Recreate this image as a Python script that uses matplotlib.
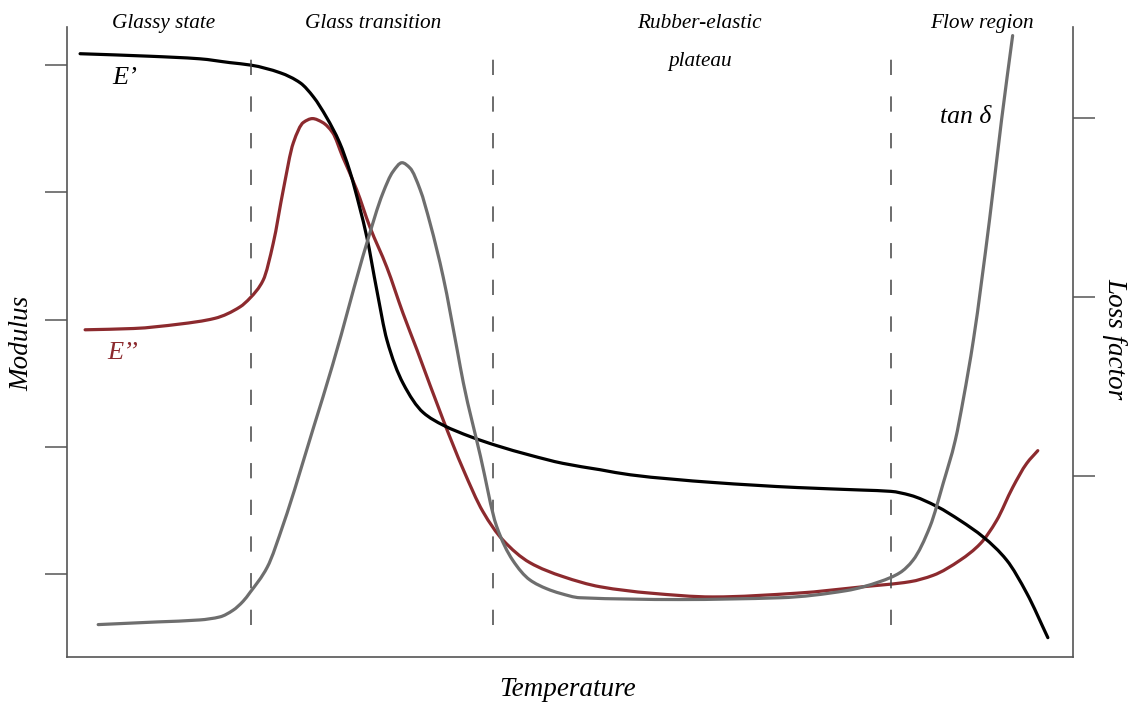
import matplotlib
matplotlib.use("Agg")
import matplotlib.pyplot as plt
import numpy as np
from matplotlib.path import Path
from matplotlib.patches import PathPatch

plt.rcParams['font.family'] = ['Liberation Serif', 'DejaVu Serif']
plt.rcParams['font.style'] = 'italic'

# storage modulus E' (left axis, arbitrary units)
t_e1 = [1.3, 8.3, 13.2, 16.2, 18.3, 21.2, 23.2, 24.5, 25.8, 27.1, 28.1, 29.1, 29.8,
        30.8, 31.8, 33.4, 35.4, 37.4, 40.1, 42.7, 46.0, 49.3, 53.0, 56.0, 64.2, 72.6,
        79.1, 81.9, 83.8, 86.5, 88.8, 91.1, 93.4, 95.4, 97.5]
e1 = [5.09, 5.07, 5.05, 5.02, 5.00, 4.94, 4.86, 4.75, 4.59, 4.39, 4.17, 3.88, 3.65,
      3.23, 2.84, 2.50, 2.27, 2.17, 2.08, 2.01, 1.935, 1.87, 1.82, 1.78, 1.72, 1.68,
      1.66, 1.65, 1.62, 1.53, 1.42, 1.29, 1.11, 0.85, 0.50]

# loss modulus E''
t_e2 = [1.8, 6.6, 11.2, 14.7, 17.2, 18.2, 19.5, 20.5, 21.5, 22.5, 23.5, 24.4, 25.4, 26.4,
        27.4, 28.8, 30.1, 31.8, 33.4, 34.8, 37.4, 39.4, 41.35, 43.3, 46.0, 49.3,
        53.0, 58.0, 64.2, 72.6, 79.1, 83.8, 86.1, 88.8, 90.8, 92.4, 94.0, 95.4, 96.5]
e2 = [2.92, 2.93, 2.965, 3.01, 3.10, 3.17, 3.31, 3.60, 4.02, 4.39, 4.55, 4.58, 4.55, 4.47,
      4.28, 4.02, 3.73, 3.41, 3.05, 2.76, 2.21, 1.82, 1.49, 1.27, 1.09, 0.98,
      0.90, 0.85, 0.82, 0.85, 0.90, 0.94, 0.99, 1.11, 1.24, 1.42, 1.68, 1.87, 1.97]

# loss factor tan delta (right axis)
t_tan = [3.1, 9.0, 13.2, 15.2, 16.5, 17.5, 18.2, 19.9, 21.5, 24.5, 26.4, 29.8, 31.4, 32.4,
         33.3, 34.1, 35.1, 36.1, 37.4, 38.8, 39.4, 41.1, 42.7, 44.3, 46.0, 47.7,
         49.0, 51.0, 60.9, 70.9, 77.5, 80.8, 82.8, 84.1, 85.8, 87.1, 88.3, 89.1, 90.1,
         91.7, 92.9, 94.0]
tan_d = [0.17, 0.185, 0.196, 0.213, 0.25, 0.30, 0.35, 0.49, 0.73, 1.27, 1.62, 2.30, 2.58, 2.70,
         2.75, 2.72, 2.60, 2.41, 2.11, 1.70, 1.52, 1.11, 0.72, 0.53, 0.42, 0.37,
         0.345, 0.32, 0.31, 0.32, 0.36, 0.41, 0.46, 0.53, 0.72, 0.96, 1.20, 1.43, 1.76,
         2.43, 2.99, 3.46]

dividers = [18.3, 42.35, 81.9]
regions = [("Glassy state", 9.6, 5.33), ("Glass transition", 30.4, 5.33),
           ("Rubber-elastic", 62.9, 5.33), ("plateau", 62.9, 5.03),
           ("Flow region", 90.9, 5.33)]

spine_col = "#555555"
red = "#8c2a2e"
grey = "#6e6e6e"


def smooth_curve(a, x, y, color):
    # bezier path through the read points, pchip-style slopes (no overshoot)
    x = np.asarray(x, float)
    y = np.asarray(y, float)
    h = np.diff(x)
    s = np.diff(y) / h
    d = np.zeros_like(y)
    d[0], d[-1] = s[0], s[-1]
    for k in range(1, len(x) - 1):
        if s[k - 1] * s[k] > 0:
            w1 = 2 * h[k] + h[k - 1]
            w2 = h[k] + 2 * h[k - 1]
            d[k] = (w1 + w2) / (w1 / s[k - 1] + w2 / s[k])
    verts = [(x[0], y[0])]
    codes = [Path.MOVETO]
    for i in range(len(x) - 1):
        verts += [(x[i] + h[i] / 3, y[i] + d[i] * h[i] / 3),
                  (x[i + 1] - h[i] / 3, y[i + 1] - d[i + 1] * h[i] / 3),
                  (x[i + 1], y[i + 1])]
        codes += [Path.CURVE4] * 3
    patch = PathPatch(Path(verts, codes), facecolor="none", edgecolor=color,
                      lw=2.3, capstyle="round", joinstyle="round")
    a.add_patch(patch)


fig = plt.figure(figsize=(11.31, 7.02), dpi=100)
ax = fig.add_axes([67/1131, 45/702, 1006/1131, 630/702])
ax2 = ax.twinx()

smooth_curve(ax, t_e2, e2, red)
smooth_curve(ax, t_e1, e1, "black")
smooth_curve(ax2, t_tan, tan_d, grey)

for d in dividers:
    ax.plot([d, d], [0.60, 5.17], color="#444444", lw=1.1, dashes=(10, 14))

ax.set_xlim(0, 100)
ax.set_ylim(0.348, 5.30)
ax2.set_ylim(-0.011, 3.508)

ax.set_xticks([])
ax.set_yticks([1, 2, 3, 4, 5])
ax.set_yticklabels([])
ax2.set_yticks([1, 2, 3])
ax2.set_yticklabels([])

for a in (ax, ax2):
    a.spines["top"].set_visible(False)
    for s in a.spines.values():
        s.set_color(spine_col)
        s.set_linewidth(1.2)
    a.tick_params(axis="y", direction="out", length=15.5, width=1.1, color=spine_col)
ax.spines["right"].set_visible(False)
ax2.spines["left"].set_visible(False)
ax2.spines["bottom"].set_visible(False)

for label, x, y in regions:
    ax.text(x, y, label, ha="center", va="center", fontsize=15.3)

ax.text(4.5, 4.90, "E\u2019", ha="left", va="center", fontsize=19)
ax.text(4.0, 2.74, "E\u2019\u2019", ha="left", va="center", fontsize=19, color=red)
ax.text(86.8, 4.59, "tan \u03b4", ha="left", va="center", fontsize=18.5)

ax.set_xlabel("Temperature", fontsize=19.5, va="center")
ax.xaxis.set_label_coords(0.498, -0.052)
ax.set_ylabel("Modulus", fontsize=19.5, va="center", ha="center")
ax.yaxis.set_label_coords(-0.045, 0.498)
ax2.set_ylabel("Loss factor", fontsize=19.5, rotation=270, va="center", ha="center")
ax2.yaxis.set_label_coords(1.042, 0.505)

fig.savefig("out.png", dpi=100)
